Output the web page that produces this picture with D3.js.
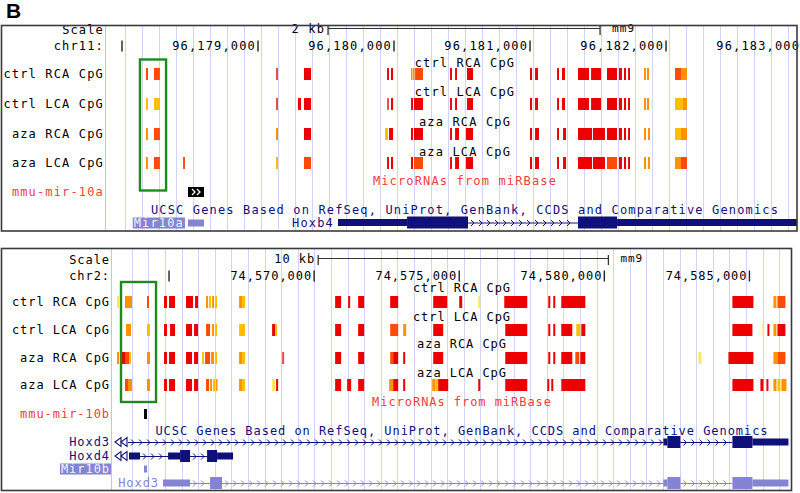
<!DOCTYPE html>
<html><head><meta charset="utf-8">
<script src="https://cdn.jsdelivr.net/npm/d3@7"></script>
<style>
body{margin:0;background:#fff}
svg text{font-family:"DejaVu Sans Mono","Liberation Mono",monospace;}
</style>
</head><body>
<svg id="c" width="800" height="493"></svg>
<script>
// ================= DATA =================
const trackNames = ["ctrl RCA CpG", "ctrl LCA CpG", "aza RCA CpG", "aza LCA CpG"];
const assembly = "mm9";

// ---- Panel 1: chr11 (mir-10a / Hoxb4) ; positions as bp offsets from chr11Ref ----
const chr11Ref = 96179000;
const chr11Window = [96177875, 96182963];
const chr11Ticks = [96178000, 96179000, 96180000, 96181000, 96182000, 96183000];
const chr11ScaleBar = [515, 2515];          // 2 kb
const chr11Highlight = [-868, -676];
// CpG sites: [start, end, methylation level index]
const cpg10a_ctrlRCA = [[-824,-809,1],[-765,-721,1],[132,147,4],[338,390,0],[949,963,0],[978,993,0],[1125,1132,2],[1140,1147,2],[1155,1213,1],[1412,1426,0],[1449,1463,0],[1537,1581,0],[2000,2015,0],[2037,2059,0],[2199,2213,0],[2235,2257,0],[2353,2434,0],[2449,2522,0],[2566,2640,0],[2654,2676,0],[2691,2706,0],[2721,2735,0],[2838,2853,2],[2860,2875,2],[3066,3110,1],[3110,3154,2]];
const cpg10a_ctrlLCA = [[-824,-809,3],[-765,-721,3],[132,147,4],[294,316,0],[338,390,0],[949,963,4],[978,993,0],[1125,1140,0],[1147,1213,0],[1412,1426,0],[1449,1463,0],[1537,1581,0],[2000,2015,0],[2037,2059,0],[2199,2213,0],[2235,2257,0],[2353,2434,0],[2449,2522,0],[2566,2640,0],[2654,2676,0],[2691,2706,0],[2721,2735,0],[2838,2853,2],[2860,2875,2],[3066,3125,3],[3125,3154,2]];
const cpg10a_azaRCA = [[-824,-809,2],[-765,-721,1],[132,147,2],[338,390,0],[934,956,3],[963,993,0],[1125,1140,0],[1147,1213,0],[1412,1426,0],[1449,1478,0],[1529,1581,0],[2000,2015,0],[2037,2066,0],[2199,2213,0],[2243,2265,0],[2353,2456,0],[2463,2551,0],[2566,2640,0],[2654,2676,0],[2691,2706,0],[2721,2735,0],[2838,2853,2],[2867,2882,2],[3066,3110,3],[3110,3154,2]];
const cpg10a_azaLCA = [[-824,-809,2],[-765,-721,1],[-551,-537,1],[132,147,3],[338,390,1],[949,963,0],[978,993,0],[1125,1140,0],[1147,1213,1],[1412,1426,0],[1449,1478,0],[1529,1581,0],[2000,2015,0],[2037,2066,0],[2199,2213,0],[2243,2265,0],[2353,2456,0],[2463,2551,0],[2566,2640,1],[2654,2676,0],[2691,2706,0],[2721,2735,0],[2838,2853,2],[2867,2882,2],[3066,3110,2],[3110,3154,1]];
const mir10a = [[-515, -397]];
// gene models: [start, end, type] (u = UTR, c = coding, i = intron)
const geneMir10a = [[-515,-397,"u"]];
const geneHoxb4 = [[588,1096,"u"],[1096,1544,"c"],[1544,2353,"i"],[2353,2640,"c"],[2640,3963,"u"]];

// ---- Panel 2: chr2 (mir-10b / Hoxd) ; offsets from chr2Ref ----
const chr2Ref = 74575000;
const chr2Window = [74563000, 74586450];
const chr2Ticks = [74565000, 74570000, 74575000, 74580000, 74585000];
const chr2ScaleBar = [-4860, 5140];          // 10 kb
const chr2Highlight = [-11655, -10448];
const cpg10b_ctrlRCA = [[-11793,-11724,5],[-11517,-11276,2],[-10759,-10690,1],[-10172,-10069,0],[-10000,-9793,0],[-9414,-9172,0],[-9103,-9000,0],[-8724,-8655,2],[-8621,-8552,3],[-8517,-8448,2],[-8414,-8345,3],[-7586,-7483,2],[-7483,-7379,3],[-4276,-4069,0],[-3827,-3759,0],[-3483,-3276,0],[-2379,-2103,0],[-896,-414,0],[0,103,0],[655,724,5],[1552,2345,0],[3069,3138,0],[3241,3310,0],[3517,4345,0],[9414,10138,0],[10828,10931,2],[10966,11241,1]];
const cpg10b_ctrlLCA = [[-11483,-11310,2],[-10759,-10655,3],[-10172,-10069,0],[-9965,-9793,0],[-9414,-9207,0],[-9138,-9000,0],[-8724,-8586,1],[-8517,-8448,2],[-8414,-8345,3],[-7586,-7379,3],[-6448,-6345,0],[-6345,-6276,3],[-4276,-4069,0],[-3483,-3276,0],[-2379,-2103,1],[-1931,-1827,2],[-896,-552,0],[1586,2345,0],[3069,3138,0],[3241,3310,0],[3517,3896,0],[4034,4172,3],[4207,4345,0],[9414,10103,0],[10448,10483,5],[10621,10690,0],[10828,10931,2],[10966,11241,0]];
const cpg10b_azaRCA = [[-11793,-11724,2],[-11621,-11517,0],[-11517,-11379,1],[-11379,-11310,3],[-10759,-10655,2],[-10172,-10069,0],[-10000,-9793,0],[-9414,-9207,0],[-9138,-9000,0],[-8862,-8793,3],[-8759,-8586,1],[-8552,-8448,2],[-8414,-8345,3],[-7586,-7483,2],[-7483,-7379,3],[-6103,-6034,4],[-4276,-4069,0],[-3483,-3276,0],[-2379,-2276,1],[-2276,-2103,0],[-1931,-1862,0],[-896,-552,0],[1586,2345,0],[3069,3138,0],[3241,3310,0],[3517,3896,0],[4000,4138,1],[4172,4345,0],[8241,8345,5],[9276,10138,0],[10828,10966,2],[10966,11241,1]];
const cpg10b_azaLCA = [[-11517,-11414,1],[-11414,-11276,2],[-10759,-10655,2],[-10172,-10069,0],[-10000,-9793,0],[-9414,-9207,0],[-9138,-9000,0],[-8724,-8621,1],[-8586,-8517,2],[-8483,-8414,3],[-8379,-8345,2],[-7586,-7483,2],[-7483,-7379,3],[-6448,-6345,5],[-6310,-6241,0],[-4276,-4069,0],[-3862,-3724,0],[-3483,-3276,0],[-2414,-2276,2],[-2276,-2103,0],[-1931,-1862,0],[-931,-827,2],[-827,-724,3],[-724,-379,0],[655,724,0],[1586,2345,0],[3034,3103,0],[3172,3241,0],[3517,4345,0],[9414,10138,0],[10379,10483,0],[10586,10655,0],[10828,10931,2],[10966,11069,3],[11103,11276,2]];
const mir10b = [[-10862, -10759]];
const geneHoxd3 = [[-11413,7034,"i"],[7034,7172,"u"],[7172,7621,"c"],[7621,9414,"i"],[9414,10103,"c"],[10103,11345,"u"]];
const geneHoxd4 = [[-11379,-10999,"u"],[-10999,-10034,"i"],[-10034,-9620,"u"],[-9620,-9275,"c"],[-9275,-8689,"i"],[-8689,-8345,"c"],[-8345,-7793,"u"]];
const geneMir10b = [[-10862,-10759,"u"]];
const geneHoxd3b = [[-10207,-9276,"u"],[-9276,-8586,"i"],[-8586,-8172,"c"],[-8172,7034,"i"],[7034,7172,"u"],[7172,7621,"c"],[7621,9414,"i"],[9414,10103,"c"],[10103,11345,"u"]];

// ================= STYLE =================
const levelColors = ["#ec0000", "#ff4a0a", "#ff9200", "#ffbf00", "#f04a4a", "#ffe65a"];
const navy = "#10107a", lavender = "#8484d2", mirRed = "#f04040";

const svg = d3.select("#c");
svg.append("text").attr("x", 6).attr("y", 18).text("B")
  .style("font-family", "Liberation Sans, Arial, sans-serif").style("font-weight", "bold").style("font-size", "21px");

function drawPanel(p) {
  const g = svg.append("g");
  const [bx0, by0, bx1, by1] = p.box;
  const x = d3.scaleLinear().domain(p.window).range([p.labelEdge, bx1]);
  const X = d => x(p.ref + d);
  const T = sel => sel.style("font-size", "12px").style("letter-spacing", p.ls + "px");

  // grid lines
  g.selectAll("line.grid").data(d3.range(p.gridStart, p.window[1], p.gridStep)).join("line")
    .attr("x1", d => Math.round(x(d)) + 0.5).attr("x2", d => Math.round(x(d)) + 0.5)
    .attr("y1", by0).attr("y2", by1).attr("stroke", "#d3d3f3").attr("stroke-width", 1);
  // label column separator
  g.append("line").attr("x1", p.labelEdge + 0.5).attr("x2", p.labelEdge + 0.5)
    .attr("y1", by0).attr("y2", by1).attr("stroke", "#ffb0b0");

  // scale row
  g.append("text").call(T).attr("x", p.labelEdge - 1).attr("y", p.scaleY + 4).attr("text-anchor", "end").text("Scale");
  const sb0 = X(p.scaleBar[0]), sb1 = X(p.scaleBar[1]);
  g.append("line").attr("x1", sb0).attr("x2", sb1).attr("y1", p.scaleY - 1.5).attr("y2", p.scaleY - 1.5).attr("stroke", "#333");
  [sb0, sb1].forEach(v => g.append("line").attr("x1", v).attr("x2", v).attr("y1", p.scaleY - 5).attr("y2", p.scaleY + 5).attr("stroke", "#333").attr("stroke-width", 1.3));
  g.append("text").call(T).attr("x", sb0 - 3).attr("y", p.scaleY + 3).attr("text-anchor", "end").text(p.scaleLabel);
  g.append("text").call(T).attr("x", sb1 + 12).attr("y", p.scaleY + 2).style("font-size", "11px").text(assembly);

  // chromosome ruler
  g.append("text").call(T).attr("x", p.labelEdge - 1).attr("y", p.chrY + 4).attr("text-anchor", "end").text(p.chrom + ":");
  p.ticks.forEach(t => {
    const tx = x(t);
    if (tx <= bx1) g.append("line").attr("x1", tx).attr("x2", tx).attr("y1", p.chrY - 5.5).attr("y2", p.chrY + 5.5).attr("stroke", "#222").attr("stroke-width", 1.4);
    if (tx - 88 > p.labelEdge) g.append("text").call(T).attr("x", tx - 2).attr("y", p.chrY + 4).attr("text-anchor", "end").text(d3.format(",")(t));
  });

  // CpG tracks
  p.tracks.forEach((tr, i) => {
    const y = p.rowY[i];
    g.append("text").call(T).attr("x", p.labelEdge - 1).attr("y", y + 4).attr("text-anchor", "end").text(trackNames[i]);
    g.append("text").call(T).attr("x", p.centerX).attr("y", p.centerY[i] + 4).attr("text-anchor", "middle").text(trackNames[i]);
    g.selectAll(null).data(tr).join("rect")
      .attr("x", d => X(d[0])).attr("width", d => Math.max(1.5, X(d[1]) - X(d[0])))
      .attr("y", y - 6).attr("height", 12).attr("fill", d => levelColors[d[2]]);
  });

  // microRNA track
  g.append("text").call(T).attr("x", p.labelEdge - 1).attr("y", p.mirY + 4).attr("text-anchor", "end").attr("fill", mirRed).text(p.mirName);
  g.append("text").call(T).attr("x", p.centerX).attr("y", p.mirTitleY + 4).attr("text-anchor", "middle").attr("fill", mirRed).text("MicroRNAs from miRBase");
  p.mirs.forEach(m => {
    const a = X(m[0]), b = X(m[1]);
    g.append("rect").attr("x", a).attr("y", p.mirY - 5).attr("width", Math.max(2.5, b - a)).attr("height", 10).attr("fill", "#000");
    if (b - a > 10) {
      [a + 4, a + 9].forEach(c => g.append("path").attr("d", `M${c},${p.mirY - 3}L${c + 3},${p.mirY}L${c},${p.mirY + 3}`).attr("fill", "none").attr("stroke", "#fff").attr("stroke-width", 1.3));
    }
  });

  // genes
  g.append("text").call(T).attr("x", p.centerX).attr("y", p.genesTitleY + 4).attr("text-anchor", "middle").attr("fill", navy).text("UCSC Genes Based on RefSeq, UniProt, GenBank, CCDS and Comparative Genomics");
  p.genes.forEach(gn => {
    const y = gn.y, col = gn.color;
    gn.segs.forEach(s => {
      const a = X(s[0]), b = X(s[1]);
      if (s[2] === "i") {
        g.append("line").attr("x1", a).attr("x2", b).attr("y1", y + 0.5).attr("y2", y + 0.5).attr("stroke", col);
        d3.range(a + 5, b - 2, 8).forEach(c => g.append("path").attr("d", `M${c - 2},${y - 2.5}L${c + 1},${y + 0.5}L${c - 2},${y + 3.5}`).attr("fill", "none").attr("stroke", col).attr("stroke-width", 1));
      } else {
        const h = s[2] === "c" ? 12 : 7;
        g.append("rect").attr("x", a).attr("width", Math.max(2.5, b - a)).attr("y", y - h / 2).attr("height", h).attr("fill", col);
      }
    });
    if (gn.clipLeft) {
      const x0 = p.labelEdge + 4;
      [x0, x0 + 6].forEach(c => g.append("path").attr("d", `M${c},${y}L${c + 6},${y - 4.5}L${c + 6},${y + 4.5}Z`).attr("fill", "#fff").attr("stroke", col).attr("stroke-width", 1.1));
    }
    const start = X(gn.segs[0][0]);
    let lx, anchor = "end";
    if (gn.label === "left" || gn.label === "leftBox") lx = p.labelEdge - 1; else lx = start - 4;
    const t = g.append("text").call(T).attr("x", lx).attr("y", y + 4).attr("text-anchor", anchor)
      .attr("fill", gn.box ? "#f0f0ff" : col).text(gn.name);
    if (gn.box) {
      const bb = t.node().getBBox();
      g.insert("rect", () => t.node()).attr("x", bb.x - 1).attr("y", y - 5.5).attr("width", bb.width + 2).attr("height", 11).attr("fill", lavender);
    }
  });

  // highlight box
  g.append("rect").attr("x", X(p.highlight[0])).attr("y", p.highlightY[0])
    .attr("width", X(p.highlight[1]) - X(p.highlight[0])).attr("height", p.highlightY[1] - p.highlightY[0])
    .attr("fill", "none").attr("stroke", "#1e8a1e").attr("stroke-width", 2.4);

  // panel border
  g.append("rect").attr("x", bx0).attr("y", by0).attr("width", bx1 - bx0).attr("height", by1 - by0)
    .attr("fill", "none").attr("stroke", "#3a3a3a").attr("stroke-width", 1.6);
}

drawPanel({
  box: [1.5, 25.5, 797, 231], labelEdge: 105, ls: 1.15,
  window: chr11Window, ref: chr11Ref, chrom: "chr11", ticks: chr11Ticks,
  gridStart: chr11Ref - 978, gridStep: 125,
  scaleBar: chr11ScaleBar, scaleLabel: "2 kb", scaleY: 30, chrY: 46,
  tracks: [cpg10a_ctrlRCA, cpg10a_ctrlLCA, cpg10a_azaRCA, cpg10a_azaLCA],
  rowY: [74, 104, 134, 163], centerY: [63, 92, 122, 152], centerX: 465,
  mirName: "mmu-mir-10a", mirY: 192, mirTitleY: 181, mirs: mir10a,
  genesTitleY: 210,
  genes: [
    {name: "Mir10a", color: lavender, y: 223, label: "inline", box: true, segs: geneMir10a},
    {name: "Hoxb4", color: navy, y: 222.5, label: "inline", segs: geneHoxb4}
  ],
  highlight: chr11Highlight, highlightY: [59.5, 190.5]
});

drawPanel({
  box: [1.5, 248.5, 791.5, 490.5], labelEdge: 111, ls: 0.95,
  window: chr2Window, ref: chr2Ref, chrom: "chr2", ticks: chr2Ticks,
  gridStart: chr2Ref - 11285, gridStep: 572,
  scaleBar: chr2ScaleBar, scaleLabel: "10 kb", scaleY: 260, chrY: 276,
  tracks: [cpg10b_ctrlRCA, cpg10b_ctrlLCA, cpg10b_azaRCA, cpg10b_azaLCA],
  rowY: [302, 330, 358, 385], centerY: [288, 317, 344, 373], centerX: 462,
  mirName: "mmu-mir-10b", mirY: 414, mirTitleY: 402, mirs: mir10b,
  genesTitleY: 431,
  genes: [
    {name: "Hoxd3", color: navy, y: 442, label: "left", clipLeft: true, segs: geneHoxd3},
    {name: "Hoxd4", color: navy, y: 456, label: "left", clipLeft: true, segs: geneHoxd4},
    {name: "Mir10b", color: lavender, y: 469, label: "leftBox", box: true, segs: geneMir10b},
    {name: "Hoxd3", color: lavender, y: 483, label: "inline", segs: geneHoxd3b}
  ],
  highlight: chr2Highlight, highlightY: [282, 402]
});
</script>
</body></html>
